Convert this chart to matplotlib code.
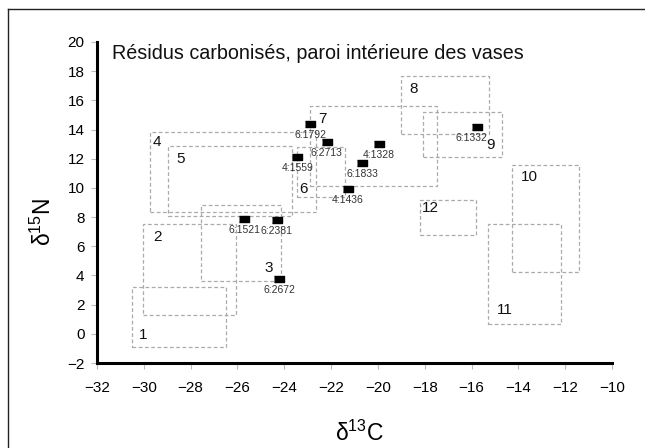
import numpy as np
import matplotlib
matplotlib.use("Agg")
import matplotlib.pyplot as plt
from matplotlib.patches import Rectangle
from matplotlib.lines import Line2D

plt.rcParams['font.family'] = ['Liberation Sans', 'DejaVu Sans']
plt.rcParams['mathtext.fontset'] = 'custom'
plt.rcParams['mathtext.rm'] = 'Liberation Sans'
plt.rcParams['mathtext.it'] = 'Liberation Sans:italic'
plt.rcParams['mathtext.bf'] = 'Liberation Sans:bold'

# Zones de référence (rectangles en pointillés): x min, x max, y min, y max
zone_noms = ["1", "2", "3", "4", "5", "6", "7", "8", "9", "10", "11", "12"]
zone_xmin = [-30.52, -30.02, -27.56, -29.74, -28.98, -23.47, -22.88, -19.01, -18.09, -14.25, -15.29, -18.20]
zone_xmax = [-26.50, -26.06, -24.15, -22.66, -23.68, -21.41, -17.49, -15.27, -14.71, -11.41, -12.18, -15.82]
zone_ymin = [-0.88, 1.29, 3.62, 8.33, 8.07, 9.36, 10.13, 13.69, 12.10, 4.22, 0.65, 6.79]
zone_ymax = [3.19, 7.53, 8.83, 13.85, 12.89, 12.82, 15.59, 17.67, 15.18, 11.59, 7.51, 9.17]
zone_lab_x = [-30.02, -29.42, -24.68, -29.45, -28.45, -23.19, -22.36, -18.49, -15.21, -13.53, -14.57, -17.75]
zone_lab_y = [-0.08, 6.61, 4.49, 13.17, 11.96, 9.90, 14.70, 16.76, 12.94, 10.73, 1.63, 8.60]

# Échantillons
ech_noms = ["6:1792", "6:2713", "4:1559", "4:1436", "4:1328", "6:1833",
            "6:1332", "6:1521", "6:2381", "6:2672"]
d13C = [-22.90, -22.19, -23.44, -21.29, -19.95, -20.67, -15.75, -25.71, -24.32, -24.21]
d15N = [14.38, 13.13, 12.12, 9.90, 13.01, 11.69, 14.15, 7.85, 7.78, 3.74]

xticks = np.arange(-32, -9, 2)
yticks = np.arange(-2, 21, 2)

fig = plt.figure(figsize=(6.45, 4.48), dpi=100)
ax = fig.add_axes([0.1504, 0.1897, 0.7984, 0.7166])

# cadre extérieur (gauche et haut)
fig.add_artist(Line2D([8/645, 8/645], [0, 1 - 9/448], color='#222222', lw=1.0,
                      transform=fig.transFigure))
fig.add_artist(Line2D([8/645, 1], [1 - 9/448, 1 - 9/448], color='#222222', lw=1.0,
                      transform=fig.transFigure))

for i in range(len(zone_noms)):
    r = Rectangle((zone_xmin[i], zone_ymin[i]), zone_xmax[i] - zone_xmin[i],
                  zone_ymax[i] - zone_ymin[i], fill=False, edgecolor='#aaaaaa',
                  lw=0.9, linestyle=(0, (3, 2)))
    ax.add_patch(r)
    ax.text(zone_lab_x[i], zone_lab_y[i], zone_noms[i], fontsize=11,
            ha='center', va='center', color='#111111')

rect = [(-1.5, -1), (1.5, -1), (1.5, 1), (-1.5, 1)]
ax.plot(d13C, d15N, linestyle='none', marker=rect, markersize=7,
        color='black', zorder=5)
for i in range(len(ech_noms)):
    dx = -4 if ech_noms[i] == "6:1332" else 0
    ax.annotate(ech_noms[i], (d13C[i], d15N[i]), xytext=(dx, -8),
                textcoords='offset points', ha='center', va='center',
                fontsize=7.5, color='#333333')

ax.text(-31.36, 19.2, "Résidus carbonisés, paroi intérieure des vases",
        fontsize=14.2, ha='left', va='center', color='#111111')

ax.set_xlim(-32, -10)
ax.set_ylim(-2, 20)
ax.set_xticks(xticks)
ax.set_yticks(yticks)
ax.tick_params(axis='both', length=4, width=0.8, color='#bbbbbb',
               labelsize=11, pad=5)
ax.tick_params(axis='x', pad=9)

for s in ['top', 'right']:
    ax.spines[s].set_visible(False)
for s in ['left', 'bottom']:
    ax.spines[s].set_linewidth(2.2)
    ax.spines[s].set_color('black')

ax.set_xlabel("δ$^{13}$C", fontsize=16.5)
ax.set_ylabel("δ$^{15}$N", fontsize=16.5)
ax.xaxis.set_label_coords(0.51, -0.18)
ax.yaxis.set_label_coords(-0.08, 0.44)

fig.savefig("out.png", dpi=100)
